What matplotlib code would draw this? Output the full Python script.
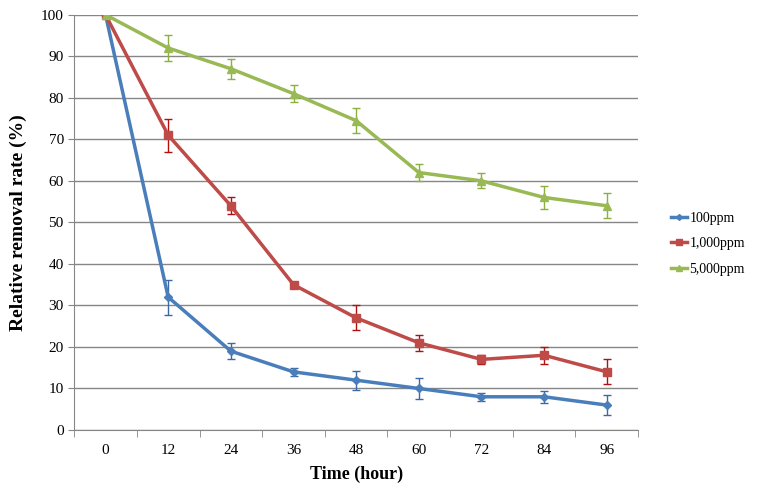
import numpy as np
import matplotlib.pyplot as plt
from matplotlib.lines import Line2D

plt.rcParams['font.family'] = ['Liberation Serif', 'DejaVu Serif']

# Time points (hour) and relative removal rates (%)
hours = ["0", "12", "24", "36", "48", "60", "72", "84", "96"]
ppm100 = [100, 32, 19, 14, 12, 10, 8, 8, 6]
ppm100_err = [0, 4.2, 2, 1, 2.3, 2.6, 1, 1.5, 2.5]
ppm1000 = [100, 71, 54, 35, 27, 21, 17, 18, 14]
ppm1000_err = [0, 4, 2, 0.5, 3, 2, 1, 2, 3]
ppm5000 = [100, 92, 87, 81, 74.5, 62, 60, 56, 54]
ppm5000_err = [0, 3.2, 2.4, 2, 3, 2, 1.8, 2.8, 3]

fig = plt.figure(figsize=(7.57, 4.92), dpi=100)
ax = fig.add_axes([0.098, 0.126, 0.745, 0.844])

x = np.arange(len(hours))

series = [
    (ppm100, ppm100_err, "100ppm", "#4a7ebb", "#3a6aa5", "D", 4),
    (ppm1000, ppm1000_err, "1,000ppm", "#be4b48", "#b01010", "s", 6),
    (ppm5000, ppm5000_err, "5,000ppm", "#98b954", "#8cb040", "^", 6),
]
handles = []
for vals, err, label, color, ecolor, marker, ms in series:
    ax.errorbar(x, vals, yerr=err, color=color, ecolor=ecolor, lw=2.5,
                marker=marker, markersize=ms, elinewidth=1, capsize=3,
                capthick=1, zorder=3)
    handles.append(Line2D([], [], color=color, lw=2.5, marker=marker,
                          markersize=ms - 1, label=label))

ax.set_xlim(-0.5, 8.5)
ax.set_ylim(0, 100)
ax.set_yticks(range(0, 101, 10))
ax.set_xticks(x)
ax.set_xticklabels(hours)
ax.set_xticks(np.arange(-0.5, 9, 1), minor=True)
ax.tick_params(axis='x', which='major', length=0, pad=10, labelsize=11)
ax.tick_params(axis='x', which='minor', length=5, color='#868686')
ax.tick_params(axis='y', length=4, color='#868686', labelsize=11)

ax.grid(axis='y', color='#868686', lw=1)
ax.set_axisbelow(True)
for s in ['top', 'right']:
    ax.spines[s].set_visible(False)
for s in ['left', 'bottom']:
    ax.spines[s].set_color('#868686')

ax.set_xlabel("Time (hour)", fontsize=13, fontweight='bold', labelpad=6)
ax.set_ylabel("Relative removal rate (%)", fontsize=14, fontweight='bold', labelpad=10)

fig.legend(handles=handles, loc='center left', bbox_to_anchor=(0.886, 0.505),
           frameon=False, fontsize=10, handlelength=1.2, handletextpad=0.15,
           labelspacing=0.9, borderpad=0, borderaxespad=0)

fig.savefig("out.png", dpi=100)
